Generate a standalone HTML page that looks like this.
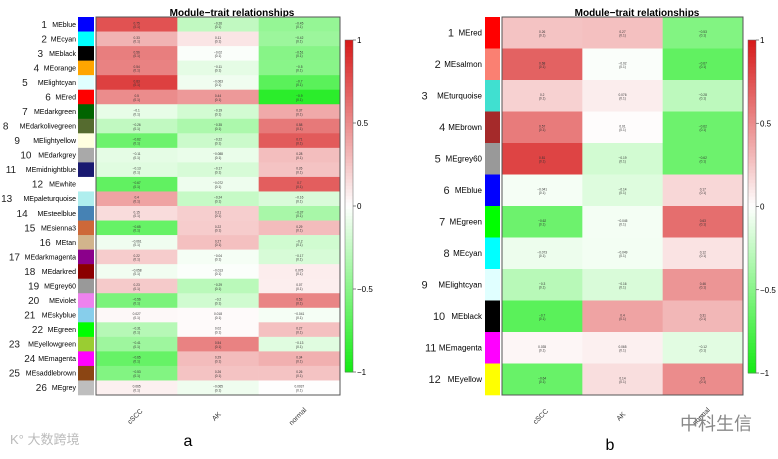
<!DOCTYPE html>
<html><head><meta charset="utf-8"><style>
body{margin:0;background:#fff;width:778px;height:454px;overflow:hidden;font-family:"Liberation Sans","Noto Sans CJK SC",sans-serif}
svg text{font-family:"Liberation Sans","Noto Sans CJK SC",sans-serif}
</style></head><body>
<svg id="s" width="778" height="454"></svg>
<script>
const traits=["cSCC","AK","normal"];
const namesA=["MEblue","MEcyan","MEblack","MEorange","MElightcyan","MEred","MEdarkgreen","MEdarkolivegreen","MElightyellow","MEdarkgrey","MEmidnightblue","MEwhite","MEpaleturquoise","MEsteelblue","MEsienna3","MEtan","MEdarkmagenta","MEdarkred","MEgrey60","MEviolet","MEskyblue","MEgreen","MEyellowgreen","MEmagenta","MEsaddlebrown","MEgrey"];
const swatchA=["#0000ff","#00ffff","#000000","#ffa500","#e0ffff","#ff0000","#006400","#556b2f","#ffffe0","#a9a9a9","#191970","#ffffff","#afeeee","#4682b4","#cd6839","#d2b48c","#8b008b","#8b0000","#999999","#ee82ee","#87ceeb","#00ff00","#9acd32","#ff00ff","#8b4513","#bebebe"];
const cSCC_A=[0.75,0.33,0.56,0.54,0.83,0.5,-0.1,-0.26,-0.62,-0.11,-0.13,-0.67,0.4,0.15,-0.65,-0.061,0.22,-0.058,0.23,-0.56,0.027,-0.31,-0.41,-0.65,-0.53,0.065];
const AK_A=[-0.26,0.11,-0.02,-0.11,-0.063,0.44,-0.19,-0.35,-0.22,-0.088,-0.17,-0.072,-0.24,0.21,0.22,0.27,-0.04,-0.013,-0.29,-0.2,0.018,0.02,0.54,0.29,0.26,-0.065];
const normal_A=[-0.45,-0.42,-0.51,-0.5,-0.7,-0.9,0.37,0.58,0.71,0.28,0.26,0.7,-0.16,-0.37,0.29,-0.2,-0.17,0.075,0.07,0.53,-0.041,0.27,-0.13,0.34,0.26,0.0037];
const namesB=["MEred","MEsalmon","MEturquoise","MEbrown","MEgrey60","MEblue","MEgreen","MEcyan","MElightcyan","MEblack","MEmagenta","MEyellow"];
const swatchB=["#ff0000","#fa8072","#40e0d0","#a52a2a","#999999","#0000ff","#00ff00","#00ffff","#e0ffff","#000000","#ff00ff","#ffff00"];
const cSCC_B=[0.26,0.68,0.2,0.57,0.81,-0.041,-0.62,-0.073,-0.3,-0.7,0.035,-0.64];
const AK_B=[0.27,-0.02,0.076,0.01,-0.19,-0.14,-0.045,-0.049,-0.16,0.4,0.065,0.14];
const normal_B=[-0.53,-0.67,-0.28,-0.62,-0.62,0.17,0.63,0.12,0.46,0.31,-0.12,0.5];
const ticks=[1,0.5,0,-0.5,-1];

const S=document.getElementById('s');const NS="http://www.w3.org/2000/svg";
function el(t,a,p){const e=document.createElementNS(NS,t);for(const k in a)e.setAttribute(k,a[k]);(p||S).appendChild(e);return e;}
function col(v){v=Math.max(-1,Math.min(1,v));let r,g,b;
 if(v>=0){r=255-(255-215)*v;g=255-(255-25)*v;b=255-(255-25)*v;}else{const t=-v;r=255-(255-20)*t;g=255-(255-235)*t;b=255-(255-20)*t;}
 return `rgb(${r|0},${g|0},${b|0})`;}
function fmt(v){return String(v).replace('-','\u2212');}
function panel(o){
 const g=el('g',{});
 const t=el('text',{x:o.tx,y:16,'font-size':10,'font-weight':'bold','text-anchor':'middle'},g);t.textContent="Module\u2212trait relationships";
 
 const n=o.names.length,rh=(o.y1-o.y0)/n,cw=(o.x1-o.x0)/3;
 const sers=[o.c,o.a,o.m];
 const x=j=>o.x0+j*cw, y=i=>o.y0+i*rh;
 for(let i=0;i<n;i++){
  const sw=el('rect',{x:o.sx,y:y(i),width:o.sw,height:rh+0.3,fill:o.sw_c[i]},g);
  
  const nm=el('text',{x:o.lx,y:y(i)+rh/2+2.5,'font-size':o.fs,'text-anchor':'end'},g);nm.textContent=o.names[i];
  
  const nu=el('text',{x:o.lx-o.names[i].length*o.fs*0.55-6,y:y(i)+rh/2+3.5,'font-size':o.fs+3,'text-anchor':'end',fill:'#222'},g);nu.textContent=i+1;
  
  for(let j=0;j<3;j++){const v=sers[j][i];
   const c=el('rect',{x:x(j),y:y(i),width:cw+0.3,height:rh+0.3,fill:col(v)},g);
   
   const tv=el('text',{x:x(j)+cw/2,y:y(i)+rh/2,'font-size':3.2,'text-anchor':'middle',fill:'#333'},g);tv.textContent=fmt(v);
   
   const tp=el('text',{x:x(j)+cw/2,y:y(i)+rh/2+3.8,'font-size':3.2,'text-anchor':'middle',fill:'#333'},g);tp.textContent="(0.1)";
   }
 }
 const fr=el('rect',{x:o.x0,y:o.y0,width:o.x1-o.x0,height:o.y1-o.y0,fill:'none',stroke:'#555','stroke-width':1},g);
 
 for(let j=0;j<3;j++){const cx=x(j)+cw/2;
  const tl=el('text',{x:cx,y:418,'font-size':7,'text-anchor':'middle',transform:`rotate(-45 ${cx} 418)`,fill:'#333'},g);tl.textContent=traits[j];
  }
 const cb=el('g',{},g);
 const by=v=>o.cb0+(1-v)/2*(o.cb1-o.cb0);
 for(let k=0;k<100;k++){const v=1-k/50;el('rect',{x:o.cbx,y:by(v),width:8,height:(o.cb1-o.cb0)/100+0.5,fill:col(v-0.01)},cb);}
 el('rect',{x:o.cbx,y:o.cb0,width:8,height:o.cb1-o.cb0,fill:'none',stroke:'#666','stroke-width':0.5},cb);
 ticks.forEach(v=>{el('line',{x1:o.cbx+8,x2:o.cbx+11,y1:by(v),y2:by(v),stroke:'#333','stroke-width':0.6},cb);
  const tk=el('text',{x:o.cbx+12,y:by(v)+3,'font-size':8},cb);tk.textContent=fmt(v);
  });
}
panel({name:'panel-a',tx:232,x0:96,x1:340,y0:17,y1:395,names:namesA,sw_c:swatchA,c:cSCC_A,a:AK_A,m:normal_A,sx:78,sw:16,lx:76,fs:7,cbx:345,cb0:40,cb1:372});
panel({name:'panel-b',tx:637,x0:502,x1:743,y0:17,y1:395,names:namesB,sw_c:swatchB,c:cSCC_B,a:AK_B,m:normal_B,sx:485,sw:15,lx:482,fs:8,cbx:748,cb0:40,cb1:373});
const la=el('text',{x:188,y:446,'font-size':16,'text-anchor':'middle'});la.textContent="a";
const lb=el('text',{x:610,y:450,'font-size':16,'text-anchor':'middle'});lb.textContent="b";
const w1=el('text',{x:10,y:444,'font-size':13,fill:'#bbb'});w1.textContent="K° 大数跨境";
const w2=el('text',{x:680,y:430,'font-size':18,fill:'#888'});w2.textContent="中科生信";
</script>
</body></html>
